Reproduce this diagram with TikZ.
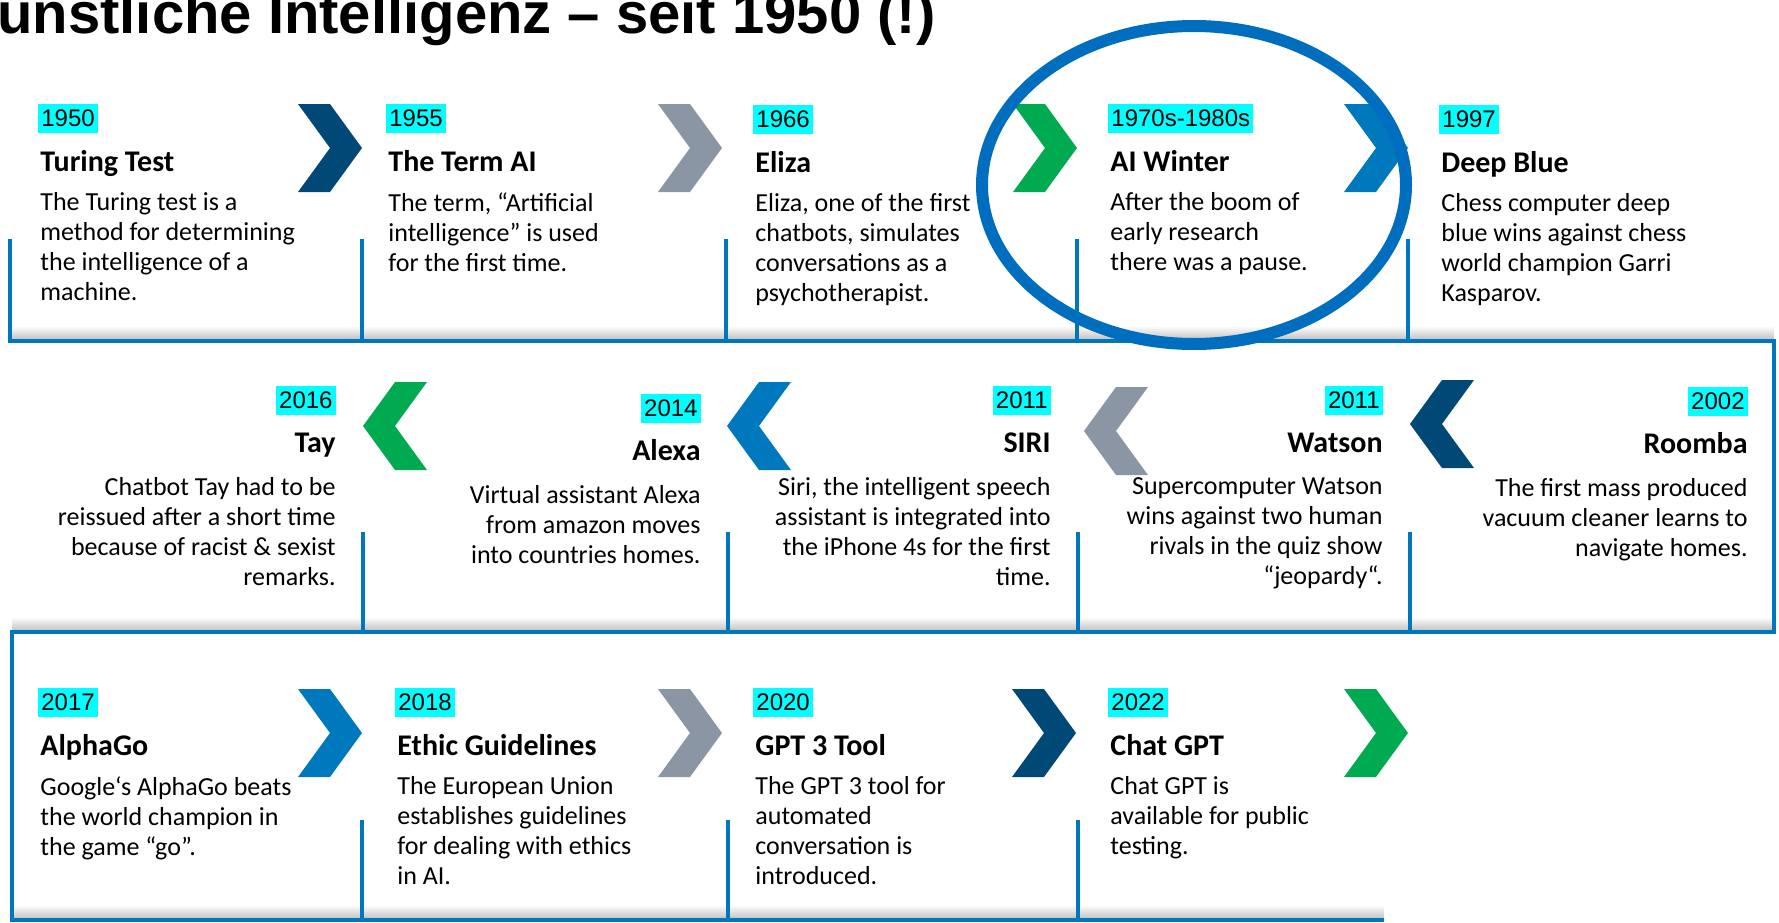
\documentclass[tikz,border=0pt]{standalone}
\usepackage{fontspec}
\setmainfont{Carlito}
\newfontfamily\arialfont{Liberation Sans}
\usepackage{tikz}
\usepackage{xcolor}

\definecolor{chnavy}{RGB}{0,72,118}
\definecolor{chgray}{RGB}{138,150,163}
\definecolor{chgreen}{RGB}{0,170,80}
\definecolor{chblue}{RGB}{0,120,190}
\definecolor{lineblue}{RGB}{0,118,190}
\definecolor{ringblue}{RGB}{0,110,190}
\definecolor{yearcyan}{RGB}{0,255,255}

\tikzset{
  yr/.style={fill=yearcyan, font=\arialfont\fontsize{12}{14}\selectfont,
    inner xsep=1.5pt, inner ysep=0pt, text height=11.1pt, text depth=3pt},
  hd/.style={font=\bfseries\fontsize{15}{17}\selectfont, inner sep=0pt},
  txt/.style={font=\fontsize{13}{15}\selectfont, inner sep=0pt,
    execute at begin node={\rule{0pt}{10pt}}},
  frame/.style={lineblue, line width=2pt},
}

% left aligned event: name, x, y of year box bottom, year, heading, text
\newcommand{\evL}[6]{%
  \node[yr, anchor=south west] (#1yr) at (#2-2,#3) {#4};
  \node[hd, anchor=base west] (#1hd) at (#2,#3+38) {#5};
  \node[txt, align=left, anchor=north west] (#1tx) at (#2,#3+59) {#6};
}
% right aligned event
\newcommand{\evR}[6]{%
  \node[yr, anchor=south east] (#1yr) at (#2,#3) {#4};
  \node[hd, anchor=base east] (#1hd) at (#2,#3+37) {#5};
  \node[txt, align=right, anchor=north east] (#1tx) at (#2,#3+62) {#6};
}

\begin{document}
\begin{tikzpicture}[x=0.5pt,y=-0.5pt]
\useasboundingbox (0,0) rectangle (1779,922);

\node[font=\arialfont\bfseries\fontsize{29}{34}\selectfont, anchor=base west, inner sep=0pt]
  (title) at (-3,33) {unstliche Intelligenz – seit 1950 (!)};

\shade[top color=white, bottom color=black!25] (10,326) rectangle (1774,340);
\shade[top color=white, bottom color=black!25] (12,617) rectangle (1774,631);
\shade[top color=white, bottom color=black!25] (12,905) rectangle (1384,919);

\coordinate (f1) at (10,239);
\coordinate (f2) at (10,341);
\coordinate (f3) at (1774,341);
\coordinate (f4) at (1774,632);
\coordinate (f5) at (12,632);
\coordinate (f6) at (12,920);
\coordinate (f7) at (1384,920);
\draw[frame] (f1) -- (f2) -- (f3) -- (f4) -- (f5) -- (f6) -- (f7);

\foreach \x in {362,726,1077,1408}
{\draw[frame] (\x,239) -- (\x,341);}
\foreach \x in {363,728,1078,1410}
{\draw[frame] (\x,532) -- (\x,632);}
\foreach \x in {362,728,1078}
{\draw[frame] (\x,820) -- (\x,920);}

\foreach \x/\c in {362/chnavy,722/chgray,1077/chgreen,1408/chblue}
{\fill[\c] (\x-64,104) -- ++(32,0) -- ++(32,44) -- ++(-32,44) -- ++(-32,0) -- ++(32,-44) -- cycle;}
\foreach \x/\y/\c in {363/382/chgreen,727/382/chblue,1084/387/chgray,1410/380/chnavy}
{\fill[\c] (\x+64,\y) -- ++(-32,0) -- ++(-32,44) -- ++(32,44) -- ++(32,0) -- ++(-32,-44) -- cycle;}
\foreach \x/\c in {362/chblue,722/chgray,1076/chnavy,1408/chgreen}
{\fill[\c] (\x-64,689) -- ++(32,0) -- ++(32,44) -- ++(-32,44) -- ++(-32,0) -- ++(32,-44) -- cycle;}

\evL{turing}{40}{133}{1950}{Turing Test}{The Turing test is a\\method for determining\\the intelligence of a\\machine.}
\evL{term}{388}{133}{1955}{The Term AI}{The term, “Artificial\\intelligence{\char34} is used\\for the first time.}
\evL{eliza}{755}{134}{1966}{Eliza}{Eliza, one of the first\\chatbots, simulates\\conversations as a\\psychotherapist.}
\evL{winter}{1110}{133}{1970s-1980s}{AI Winter}{After the boom of\\early research\\there was a pause.}
\evL{deep}{1441}{134}{1997}{Deep Blue}{Chess computer deep\\blue wins against chess\\world champion Garri\\Kasparov.}

\evR{tay}{336}{415}{2016}{Tay}{Chatbot Tay had to be\\reissued after a short time\\because of racist \& sexist\\remarks.}
\evR{alexa}{701}{423}{2014}{Alexa}{Virtual assistant Alexa\\from amazon moves\\into countries homes.}
\evR{siri}{1051}{415}{2011}{SIRI}{Siri, the intelligent speech\\assistant is integrated into\\the iPhone 4s for the first\\time.}
\evR{watson}{1383}{415}{2011}{Watson}{Supercomputer Watson\\wins against two human\\rivals in the quiz show\\“jeopardy“.}
\evR{roomba}{1748}{416}{2002}{Roomba}{The first mass produced\\vacuum cleaner learns to\\navigate homes.}

\evL{alphago}{40}{717}{2017}{AlphaGo}{Google{\char96}s AlphaGo beats\\the world champion in\\the game “go”.}
\evL{ethic}{397}{717}{2018}{Ethic Guidelines}{The European Union\\establishes guidelines\\for dealing with ethics\\in AI.}
\evL{gpt}{755}{717}{2020}{GPT 3 Tool}{The GPT 3 tool for\\automated\\conversation is\\introduced.}
\evL{chat}{1110}{717}{2022}{Chat GPT}{Chat GPT is\\available for public\\testing.}

\draw[ringblue, line width=6pt] (1194,185) ellipse [x radius=212, y radius=159];

\end{tikzpicture}
\end{document}
